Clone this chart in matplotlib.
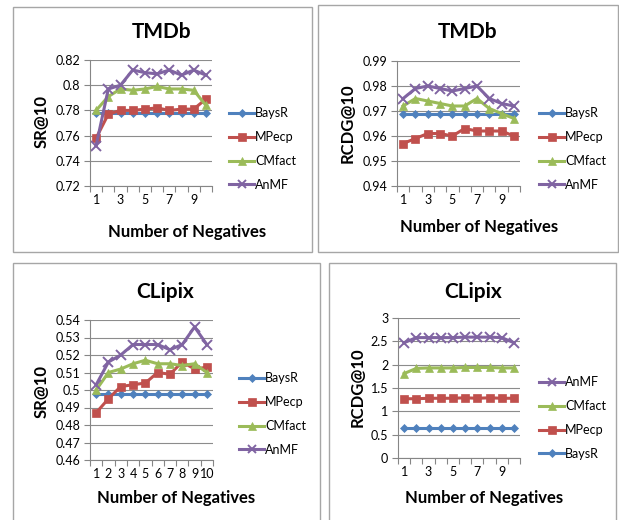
"""Four small Excel-style line charts: SR@10 / RCDG@10 vs number of negatives."""
import matplotlib
matplotlib.use("Agg")
import matplotlib.pyplot as plt
from matplotlib.patches import Rectangle

plt.rcParams["font.family"] = ["Lato", "DejaVu Sans"]

W, H = 619, 520

NEG = list(range(1, 11))
METHODS = ["BaysR", "MPecp", "CMfact", "AnMF"]
COLORS = {"BaysR": "#4F81BD", "MPecp": "#C0504D", "CMfact": "#9BBB59", "AnMF": "#8064A2"}
MARKERS = {"BaysR": "D", "MPecp": "s", "CMfact": "^", "AnMF": "x"}
MSIZE = {"BaysR": 4.5, "MPecp": 6, "CMfact": 6, "AnMF": 7}

# TMDb, SR@10
tmdb_sr_baysr = [0.778] * 10
tmdb_sr_mpecp = [0.758, 0.777, 0.780, 0.780, 0.781, 0.782, 0.780, 0.781, 0.781, 0.789]
tmdb_sr_cmfact = [0.780, 0.791, 0.797, 0.796, 0.797, 0.799, 0.797, 0.797, 0.796, 0.784]
tmdb_sr_anmf = [0.752, 0.797, 0.800, 0.812, 0.810, 0.809, 0.812, 0.808, 0.812, 0.808]

# TMDb, RCDG@10
tmdb_rc_baysr = [0.969] * 10
tmdb_rc_mpecp = [0.957, 0.959, 0.961, 0.961, 0.960, 0.963, 0.962, 0.962, 0.962, 0.960]
tmdb_rc_cmfact = [0.972, 0.975, 0.974, 0.973, 0.972, 0.972, 0.975, 0.971, 0.969, 0.967]
tmdb_rc_anmf = [0.975, 0.979, 0.980, 0.979, 0.978, 0.979, 0.980, 0.975, 0.973, 0.972]

# CLipix, SR@10
clipix_sr_baysr = [0.498] * 10
clipix_sr_mpecp = [0.487, 0.495, 0.502, 0.503, 0.504, 0.510, 0.509, 0.516, 0.512, 0.513]
clipix_sr_cmfact = [0.500, 0.510, 0.512, 0.515, 0.517, 0.515, 0.515, 0.514, 0.515, 0.510]
clipix_sr_anmf = [0.503, 0.516, 0.520, 0.526, 0.526, 0.526, 0.523, 0.526, 0.536, 0.526]

# CLipix, RCDG@10
clipix_rc_baysr = [0.64] * 10
clipix_rc_mpecp = [1.27, 1.27, 1.28, 1.28, 1.28, 1.29, 1.28, 1.29, 1.28, 1.28]
clipix_rc_cmfact = [1.81, 1.92, 1.93, 1.93, 1.93, 1.94, 1.94, 1.94, 1.93, 1.93]
clipix_rc_anmf = [2.47, 2.58, 2.58, 2.58, 2.58, 2.59, 2.59, 2.59, 2.58, 2.47]


def px_rect(l, t, r, b):
    return [l / W, 1 - b / H, (r - l) / W, (b - t) / H]


def fx(x):
    return x / W


def fy(y):
    return 1 - y / H


PANELS = [
    dict(box=(13, 7, 312, 252), ax=(90, 60, 212, 186),
         title="TMDb", title_xy=(162, 32), ylabel="SR@10", ylab_xy=(42, 121),
         xlab_xy=(187, 232), yticks=[0.72, 0.74, 0.76, 0.78, 0.80, 0.82],
         yticklabels=["0.72", "0.74", "0.76", "0.78", "0.8", "0.82"],
         xticks=[1, 3, 5, 7, 9],
         series={"BaysR": tmdb_sr_baysr, "MPecp": tmdb_sr_mpecp,
                 "CMfact": tmdb_sr_cmfact, "AnMF": tmdb_sr_anmf},
         order=METHODS, leg_xy=(229, 149)),
    dict(box=(318, 5, 618, 252), ax=(397, 61, 520, 186),
         title="TMDb", title_xy=(468, 32), ylabel="RCDG@10", ylab_xy=(348, 123),
         xlab_xy=(479, 227), yticks=[0.94, 0.95, 0.96, 0.97, 0.98, 0.99],
         yticklabels=["0.94", "0.95", "0.96", "0.97", "0.98", "0.99"],
         xticks=[1, 3, 5, 7, 9],
         series={"BaysR": tmdb_rc_baysr, "MPecp": tmdb_rc_mpecp,
                 "CMfact": tmdb_rc_cmfact, "AnMF": tmdb_rc_anmf},
         order=METHODS, leg_xy=(539, 149)),
    dict(box=(13, 263, 320, 530), ax=(90, 320, 213, 460),
         title="CLipix", title_xy=(165, 292), ylabel="SR@10", ylab_xy=(42, 392),
         xlab_xy=(176, 498),
         yticks=[0.46, 0.47, 0.48, 0.49, 0.50, 0.51, 0.52, 0.53, 0.54],
         yticklabels=["0.46", "0.47", "0.48", "0.49", "0.5", "0.51", "0.52", "0.53", "0.54"],
         xticks=NEG,
         series={"BaysR": clipix_sr_baysr, "MPecp": clipix_sr_mpecp,
                 "CMfact": clipix_sr_cmfact, "AnMF": clipix_sr_anmf},
         order=METHODS, leg_xy=(239, 414)),
    dict(box=(329, 263, 616, 530), ax=(398, 318, 520, 458),
         title="CLipix", title_xy=(473, 292), ylabel="RCDG@10", ylab_xy=(358, 387),
         xlab_xy=(484, 498), yticks=[0, 0.5, 1, 1.5, 2, 2.5, 3],
         yticklabels=["0", "0.5", "1", "1.5", "2", "2.5", "3"],
         xticks=[1, 3, 5, 7, 9],
         series={"BaysR": clipix_rc_baysr, "MPecp": clipix_rc_mpecp,
                 "CMfact": clipix_rc_cmfact, "AnMF": clipix_rc_anmf},
         order=METHODS[::-1], leg_xy=(539, 418)),
]

fig = plt.figure(figsize=(W / 100, H / 100), dpi=100)

for p in PANELS:
    l, t, r, b = p["box"]
    fig.patches.append(Rectangle((fx(l), fy(b)), fx(r - l), (b - t) / H,
                                 transform=fig.transFigure, fill=False,
                                 edgecolor="#A6A6A6", linewidth=1.0))

    ax = fig.add_axes(px_rect(*p["ax"]))
    handles = {}
    for m in METHODS:
        h, = ax.plot(NEG, p["series"][m], color=COLORS[m], marker=MARKERS[m],
                     markersize=MSIZE[m], markeredgewidth=1.4 if m == "AnMF" else 0.5,
                     markeredgecolor=COLORS[m], linewidth=2.2, label=m,
                     solid_joinstyle="round", clip_on=False)
        handles[m] = h

    ax.set_xlim(0.5, 10.5)
    ax.set_ylim(p["yticks"][0], p["yticks"][-1])
    ax.set_yticks(p["yticks"])
    ax.set_yticklabels(p["yticklabels"], fontsize=9)
    ax.set_xticks(p["xticks"])
    ax.set_xticklabels([str(v) for v in p["xticks"]], fontsize=9)
    ax.set_xticks([v + 0.5 for v in range(0, 11)], minor=True)
    ax.tick_params(axis="x", which="major", length=0, pad=6)
    ax.tick_params(axis="x", which="minor", length=4, color="#868686", width=0.8)
    ax.tick_params(axis="y", length=4, color="#868686", width=0.8, pad=3)
    ax.grid(axis="y", color="#8C8C8C", linewidth=0.8)
    ax.set_axisbelow(True)
    for s in ("top", "right"):
        ax.spines[s].set_visible(False)
    for s in ("left", "bottom"):
        ax.spines[s].set_color("#868686")
        ax.spines[s].set_linewidth(0.8)

    fig.text(fx(p["title_xy"][0]), fy(p["title_xy"][1]), p["title"],
             ha="center", va="center", fontsize=15, fontweight="bold")
    fig.text(fx(p["xlab_xy"][0]), fy(p["xlab_xy"][1]), "Number of Negatives",
             ha="center", va="center", fontsize=12, fontweight="bold")
    fig.text(fx(p["ylab_xy"][0]), fy(p["ylab_xy"][1]), p["ylabel"],
             ha="center", va="center", rotation=90, fontsize=12, fontweight="bold")

    ax.legend([handles[m] for m in p["order"]], p["order"],
              loc="center left",
              bbox_to_anchor=(fx(p["leg_xy"][0]), fy(p["leg_xy"][1])),
              bbox_transform=fig.transFigure, frameon=False, fontsize=9,
              handlelength=2.0, handletextpad=0.1, labelspacing=0.95,
              borderpad=0, borderaxespad=0, markerscale=0.9)

fig.savefig("out.png", dpi=100)
